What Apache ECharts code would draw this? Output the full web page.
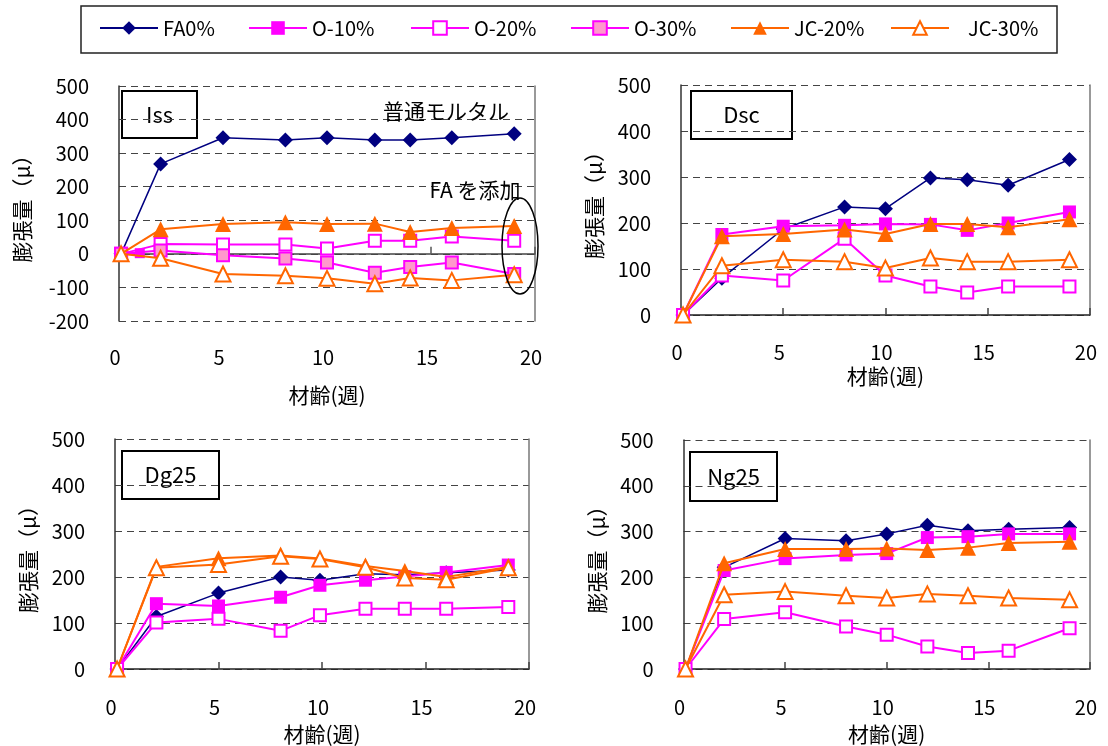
<!DOCTYPE html>
<html>
<head>
<meta charset="utf-8">
<script src="https://cdn.jsdelivr.net/npm/echarts@6/dist/echarts.min.js"></script>
<style>
  html, body { margin: 0; padding: 0; background: #fff; }
  #chart { width: 1108px; height: 746px; }
</style>
</head>
<body>
<div id="chart"></div>
<script>
// ---------------- DATA ----------------
const seriesNames = ['FA0%', 'O-10%', 'O-20%', 'O-30%', 'JC-20%', 'JC-30%'];
const yAxisTitle = '膨張量（μ）';
const xAxisTitle = '材齢(週)';
const panelTitles = ['Iss', 'Dsc', 'Dg25', 'Ng25'];

// Iss (weeks)
const issWeeks = [0.1, 1, 2, 5, 8, 10, 12.3, 14, 16, 19];
const issFA0  = [0, null, 268, 346, 339, 346, 339, 339, 346, 358];
const issO10  = [0, 2, null, null, null, null, null, null, null, null];
const issO20  = [0, null, 29, 28, 28, 16, 39, 39, 52, 39];
const issO30  = [0, null, 10, -4, -14, -26, -56, -39, -26, -60];
const issJC20 = [0, null, 73, 89, 94, 89, 90, 65, 77, 83];
const issJC30 = [0, null, -13, -60, -65, -73, -89, -72, -79, -62];

// Dsc
const dscWeeks = [0.1, 2, 5, 8, 10, 12.2, 14, 16, 19];
const dscFA0  = [0, 80, 187, 235, 231, 298, 294, 282, 338];
const dscO10  = [0, 175, 193, 195, 198, 197, 184, 200, 224];
const dscO20  = [0, 86, 75, 166, 86, 62, 49, 62, 62];
const dscJC20 = [0, 171, 176, 186, 176, 198, 198, 191, 208];
const dscJC30 = [0, 107, 120, 116, 102, 124, 116, 116, 120];

// Dg25
const dg25Weeks = [0.1, 2, 5, 8, 9.9, 12.1, 14, 16, 19];
const dg25FA0  = [0, 114, 165, 200, 193, 207, 205, 209, 215];
const dg25O10  = [0, 142, 137, 156, 182, 193, 201, 210, 226];
const dg25O20  = [0, 101, 109, 83, 117, 131, 131, 131, 135];
const dg25JC20 = [0, 222, 241, 247, 240, 224, 213, 200, 222];
const dg25JC30 = [0, 220, 227, 245, 239, 221, 198, 194, 220];

// Ng25
const ng25Weeks = [0.1, 2, 5, 8, 10, 12, 14, 16, 19];
const ng25FA0  = [0, 222, 285, 280, 295, 314, 302, 305, 309];
const ng25O10  = [0, 215, 241, 249, 252, 287, 289, 295, 295];
const ng25O20  = [0, 109, 124, 93, 75, 49, 35, 40, 89];
const ng25JC20 = [0, 231, 262, 262, 263, 260, 265, 275, 278];
const ng25JC30 = [0, 162, 169, 160, 155, 164, 160, 155, 151];

// axis ranges
const xMin = 0, xMax = 20, xStep = 5;
const issYMin = -200, yMin = 0, yMax = 500, yStep = 100;

// annotations
const noteText1 = '普通モルタル';
const noteText2 = 'FA を添加';

// ---------------- STYLE / LAYOUT ----------------
const JP = '"Noto Sans CJK JP", sans-serif';
const STYLE = {
  'FA0%':   { line: '#000080', lw: 1.5, symbol: 'diamond',  size: 15, fill: '#000080', border: '#000080', bw: 0 },
  'O-10%':  { line: '#FF00FF', lw: 2,   symbol: 'rect',     size: 13, fill: '#FF00FF', border: '#FF00FF', bw: 0 },
  'O-20%':  { line: '#FF00FF', lw: 2,   symbol: 'rect',     size: 12, fill: '#FFFFFF', border: '#FF00FF', bw: 2 },
  'O-30%':  { line: '#FF00FF', lw: 2,   symbol: 'rect',     size: 12, fill: '#FF99CC', border: '#FF00FF', bw: 2 },
  'JC-20%': { line: '#FF6600', lw: 2,   symbol: 'triangle', size: 16, fill: '#FF6600', border: '#FF6600', bw: 0 },
  'JC-30%': { line: '#FF6600', lw: 2,   symbol: 'triangle', size: 15, fill: '#FFFFFF', border: '#FF6600', bw: 2 }
};

const panels = [
  { title: panelTitles[0], weeks: issWeeks, ymin: issYMin,
    values: [issFA0, issO10, issO20, issO30, issJC20, issJC30],
    grid: { left: 119, top: 86, width: 416, height: 235 },
    yNameGap: 86, xNameGap: 64, xLabelMargin: 26, zeroLine: true,
    box: [122, 91, 75, 47], o10size: 10 },
  { title: panelTitles[1], weeks: dscWeeks, ymin: yMin,
    values: [dscFA0, dscO10, dscO20, null, dscJC20, dscJC30],
    grid: { left: 681, top: 85, width: 414, height: 230 },
    yNameGap: 76, xNameGap: 51, xLabelMargin: 27, zeroLine: false,
    box: [691, 91, 101, 48] },
  { title: panelTitles[2], weeks: dg25Weeks, ymin: yMin,
    values: [dg25FA0, dg25O10, dg25O20, null, dg25JC20, dg25JC30],
    grid: { left: 115, top: 439, width: 414, height: 231 },
    yNameGap: 76, xNameGap: 55, xLabelMargin: 28, zeroLine: false,
    box: [122, 451, 97, 48] },
  { title: panelTitles[3], weeks: ng25Weeks, ymin: yMin,
    values: [ng25FA0, ng25O10, ng25O20, null, ng25JC20, ng25JC30],
    grid: { left: 683.5, top: 440, width: 414, height: 230 },
    yNameGap: 76, xNameGap: 55, xLabelMargin: 28, zeroLine: false,
    box: [690, 452, 87, 49] }
];

function pairs(xs, ys) {
  const out = [];
  xs.forEach((x, i) => { if (ys[i] != null) out.push([x, ys[i]]); });
  return out;
}

const grids = [], xAxes = [], yAxes = [], series = [], graphics = [];

panels.forEach((p, gi) => {
  grids.push(Object.assign({ containLabel: false }, p.grid));
  const yLeftIdx = yAxes.length;
  yAxes.push({
    gridIndex: gi, type: 'value', min: p.ymin, max: yMax, interval: yStep,
    axisLine: { show: true, onZero: false, lineStyle: { color: '#333', width: 1.5 } },
    axisTick: { show: false },
    axisLabel: { margin: 30, fontSize: 20, color: '#000', fontFamily: JP },
    splitLine: { show: true, lineStyle: { type: [7, 5], color: '#444', width: 1 } },
    name: yAxisTitle, nameLocation: 'middle', nameRotate: 90, nameGap: p.yNameGap,
    nameTextStyle: { fontSize: 21, color: '#000', fontFamily: JP }
  });
  yAxes.push({
    gridIndex: gi, type: 'value', min: p.ymin, max: yMax, interval: yStep, position: 'right',
    axisLine: { show: true, onZero: false, lineStyle: { color: '#777', width: 1.5 } },
    axisTick: { show: false }, axisLabel: { show: false }, splitLine: { show: false }
  });
  const xMainIdx = xAxes.length;
  xAxes.push({
    gridIndex: gi, type: 'value', min: xMin, max: xMax, interval: xStep, position: 'bottom',
    axisLine: { show: !p.zeroLine, onZero: false, lineStyle: { color: '#222', width: 1.5 } },
    axisTick: { show: !p.zeroLine, inside: true, length: 7, lineStyle: { color: '#444', width: 1.5 } },
    axisLabel: { margin: p.xLabelMargin, fontSize: 20, color: '#000', fontFamily: JP,
                 lineHeight: 20, padding: [0, 8, 0, 0] },
    splitLine: { show: false },
    name: xAxisTitle, nameLocation: 'middle', nameGap: p.xNameGap,
    nameTextStyle: { fontSize: 21, color: '#000', fontFamily: JP }
  });
  if (p.zeroLine) {
    xAxes.push({
      gridIndex: gi, type: 'value', min: xMin, max: xMax, interval: xStep, position: 'bottom',
      axisLine: { show: true, onZero: true, onZeroAxisIndex: yLeftIdx, lineStyle: { color: '#444', width: 1.5 } },
      axisTick: { show: true, inside: true, length: 7, lineStyle: { color: '#555', width: 1.5 } },
      axisLabel: { show: false }, splitLine: { show: false }
    });
  }
  p.values.forEach((vals, si) => {
    if (!vals) return;
    const name = seriesNames[si];
    const st = STYLE[name];
    const size = (name === 'O-10%' && p.o10size) ? p.o10size : st.size;
    series.push({
      type: 'line', name: name, xAxisIndex: xMainIdx, yAxisIndex: yLeftIdx,
      data: pairs(p.weeks, vals),
      symbol: st.symbol, symbolSize: size, showSymbol: true, showAllSymbol: true,
      lineStyle: { color: st.line, width: st.lw },
      itemStyle: { color: st.fill, borderColor: st.border, borderWidth: st.bw, opacity: 1 },
      emphasis: { disabled: true }, animation: false, silent: true, z: 2 + si
    });
  });
  const b = p.box;
  graphics.push({
    type: 'group', z: 100,
    children: [
      { type: 'rect', shape: { x: b[0], y: b[1], width: b[2], height: b[3] },
        style: { fill: '#fff', stroke: '#000', lineWidth: 2 } },
      { type: 'text', x: b[0] + b[2] / 2, y: b[1] + b[3] / 2,
        style: { text: p.title, fontSize: 22, fontFamily: JP, fill: '#000',
                 align: 'center', verticalAlign: 'middle' } }
    ]
  });
});

graphics.push({ type: 'rect', z: 100, shape: { x: 81, y: 6, width: 976, height: 47 },
  style: { fill: 'none', stroke: '#222', lineWidth: 1.5 } });
graphics.push({ type: 'text', z: 100, x: 446, y: 111,
  style: { text: noteText1, fontSize: 21, fontFamily: JP, fill: '#000', align: 'center', verticalAlign: 'middle' } });
graphics.push({ type: 'text', z: 100, x: 475, y: 190,
  style: { text: noteText2, fontSize: 21, fontFamily: JP, fill: '#000', align: 'center', verticalAlign: 'middle' } });
graphics.push({ type: 'ellipse', z: 100, shape: { cx: 520, cy: 246, rx: 18, ry: 48 },
  style: { fill: 'none', stroke: '#000', lineWidth: 1.5 } });

const legendLefts = [99, 248, 410, 570, 730, 890];
const legendPadLeft = [0, 0, 0, 0, 0, 14];
const legends = seriesNames.map((n, k) => ({
  data: [n], left: legendLefts[k], top: 18, orient: 'horizontal',
  itemWidth: 58, itemHeight: 17, itemGap: 0, selectedMode: false, padding: 0,
  textStyle: { fontSize: 20, color: '#000', fontFamily: JP, padding: [0, 0, 0, legendPadLeft[k]] }
}));

const chart = echarts.init(document.getElementById('chart'), null, { renderer: 'canvas' });
chart.setOption({
  animation: false,
  backgroundColor: '#fff',
  textStyle: { fontFamily: JP },
  legend: legends,
  grid: grids,
  xAxis: xAxes,
  yAxis: yAxes,
  series: series,
  graphic: graphics
});
</script>
</body>
</html>
